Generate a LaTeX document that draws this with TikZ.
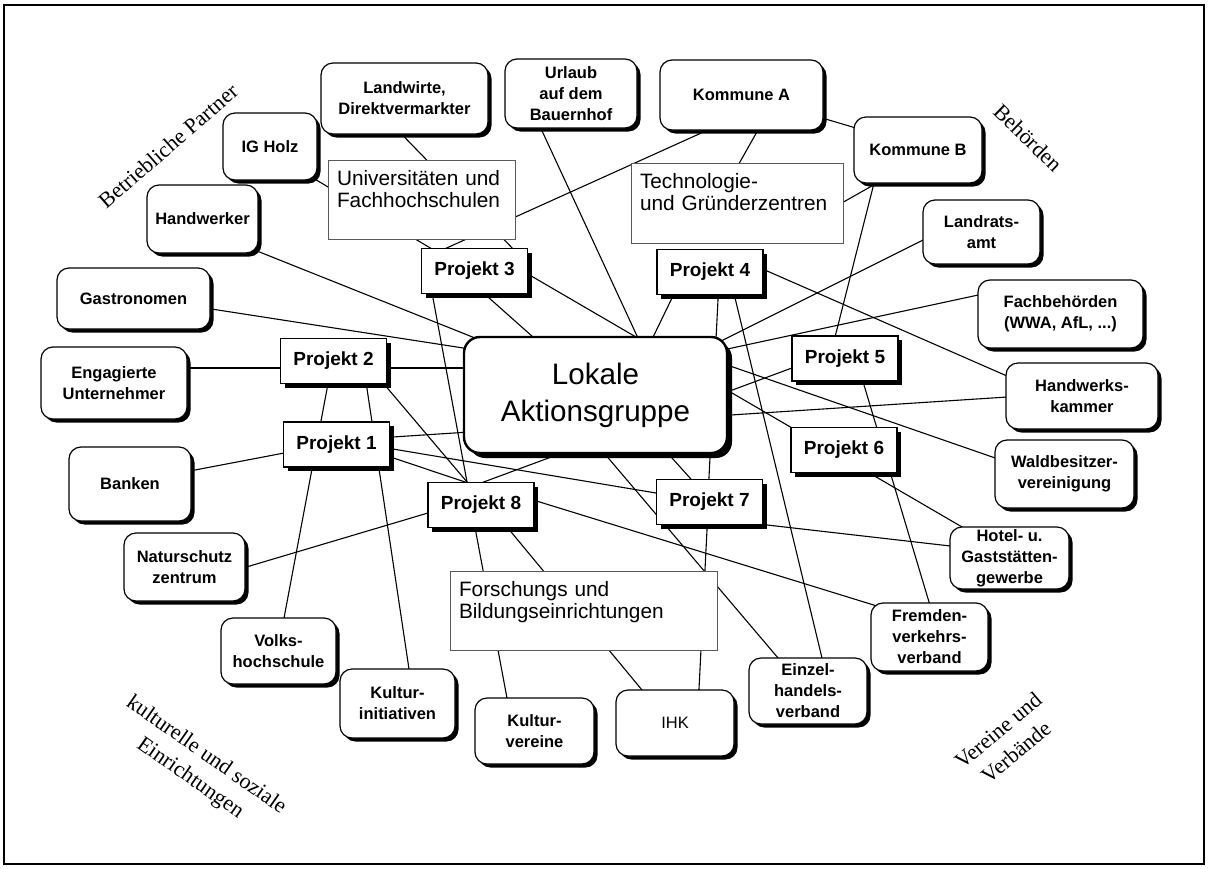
\documentclass[tikz,border=0pt]{standalone}
\usepackage{fontspec}
\setmainfont{Liberation Sans}
\newfontfamily\serifff{Liberation Serif}
\usetikzlibrary{shadows,backgrounds}
\begin{document}
\begin{tikzpicture}[x=1pt,y=-1pt,
  actor/.style={draw, line width=1.2pt, rounded corners=12pt, fill=white, align=center, inner sep=0pt,
    font=\bfseries\fontsize{16.5}{21}\selectfont,
    drop shadow={shadow xshift=3.5pt, shadow yshift=-3.5pt, fill=black, opacity=1}},
  proj/.style={draw, line width=1.2pt, fill=white, inner sep=0pt, minimum width=106pt, minimum height=45pt,
    font=\bfseries\fontsize{19}{22}\selectfont,
    drop shadow={shadow xshift=4pt, shadow yshift=-4pt, fill=black, opacity=1}},
  info/.style={draw=black!65, line width=0.8pt, fill=white, align=left, inner xsep=9pt, inner ysep=0pt,
    font=\fontsize{20.8}{22}\selectfont},
  link/.style={line width=1.1pt, black},
  region/.style={font=\serifff\fontsize{22}{28}\selectfont, align=center},
]
\useasboundingbox (0,0) rectangle (1208,868);
\draw[line width=1.5pt] (4,5) rectangle (1204,864);

% region labels
\node[region, rotate=41] (betrieb) at (168,146) {Betriebliche Partner};
\node[region, rotate=-44] (behoerden) at (1028,138) {Behörden};
\node[region, rotate=-35] (kultur) at (198,767) {kulturelle und soziale\\Einrichtungen};
\node[region, rotate=40] (vereine) at (1007,741) {Vereine und\\Verbände};

% info boxes
\node[info, minimum width=187pt, minimum height=79pt, text width=169pt] (univ) at (421.5,199.5) {Universitäten und\\Fachhochschulen\\\mbox{}};
\node[info, minimum width=212pt, minimum height=80pt, text width=194pt] (tech) at (737,203) {Technologie-\\und Gründerzentren\\\mbox{}};
\node[info, minimum width=267pt, minimum height=79pt, text width=249pt] (forsch) at (583.5,610.5) {Forschungs und\\Bildungseinrichtungen\\\mbox{}};

% actor boxes
\node[actor, minimum width=94pt, minimum height=67pt] (igholz) at (270,146.5) {IG Holz};
\node[actor, minimum width=167pt, minimum height=71pt] (landwirte) at (404.5,98.5) {Landwirte,\\Direktvermarkter};
\node[actor, minimum width=132pt, minimum height=69pt] (urlaub) at (571,93.5) {Urlaub\\auf dem\\Bauernhof};
\node[actor, minimum width=163pt, minimum height=70pt] (kommunea) at (741.5,95) {Kommune A};
\node[actor, minimum width=128pt, minimum height=66pt] (kommuneb) at (918,150) {Kommune B};
\node[actor, minimum width=111pt, minimum height=68pt] (handwerker) at (202.5,219) {Handwerker};
\node[actor, minimum width=153pt, minimum height=61pt] (gastro) at (133.5,298.5) {Gastronomen};
\node[actor, minimum width=146pt, minimum height=72pt] (engagiert) at (114,383) {Engagierte\\Unternehmer};
\node[actor, minimum width=122pt, minimum height=74pt] (banken) at (130,484) {Banken};
\node[actor, minimum width=121pt, minimum height=68pt] (natur) at (184.5,567) {Naturschutz\\zentrum};
\node[actor, minimum width=115pt, minimum height=66pt] (volks) at (278.5,651) {Volks-\\hochschule};
\node[actor, minimum width=115pt, minimum height=69pt] (kinit) at (397.5,703.5) {Kultur-\\initiativen};
\node[actor, minimum width=119pt, minimum height=66pt] (kver) at (534.5,731) {Kultur-\\vereine};
\node[actor, minimum width=118pt, minimum height=66pt, font=\mdseries\fontsize{16.5}{21}\selectfont] (ihk) at (675,723) {IHK};
\node[actor, minimum width=118pt, minimum height=66pt] (einzel) at (808,691) {Einzel-\\handels-\\verband};
\node[actor, minimum width=117pt, minimum height=68pt] (fremden) at (929.5,637) {Fremden-\\verkehrs-\\verband};
\node[actor, minimum width=119pt, minimum height=62pt] (hotel) at (1009.5,558) {Hotel- u.\\Gaststätten-\\gewerbe};
\node[actor, minimum width=139pt, minimum height=68pt] (wald) at (1064.5,474) {Waldbesitzer-\\vereinigung};
\node[actor, minimum width=152pt, minimum height=66pt] (hwk) at (1082,396) {Handwerks-\\kammer};
\node[actor, minimum width=165pt, minimum height=68pt] (fach) at (1060.5,314) {Fachbehörden\\(WWA, AfL, ...)};
\node[actor, minimum width=117pt, minimum height=64pt] (landrat) at (981.5,232) {Landrats-\\amt};

% projects
\node[proj] (p3) at (474.5,271) {Projekt 3};
\node[proj] (p4) at (710,272) {Projekt 4};
\node[proj] (p2) at (333.5,361) {Projekt 2};
\node[proj] (p5) at (845,358.5) {Projekt 5};
\node[proj] (p1) at (336.5,444.5) {Projekt 1};
\node[proj] (p6) at (844,450) {Projekt 6};
\node[proj] (p8) at (481,505) {Projekt 8};
\node[proj] (p7) at (709.5,502) {Projekt 7};

% central node
\node[draw, line width=2.4pt, rounded corners=16pt, fill=white, minimum width=263pt, minimum height=116pt,
  align=center, font=\fontsize{29.6}{37}\selectfont,
  drop shadow={shadow xshift=5pt, shadow yshift=-5pt, fill=black, opacity=1}] (lokale) at (595.5,395) {Lokale\\Aktionsgruppe};

\begin{pgfonlayer}{background}
\fill[white] (0,0) rectangle (1208,868);
\draw[link] ([shift={(49.5,30)}]handwerker.center) -- ([shift={(-110.5,-53)}]lokale.center);
\draw[link] ([shift={(71.5,9.5)}]gastro.center) -- ([shift={(-122.5,-45.5)}]lokale.center);
\draw[link] ([shift={(66,-15)}]engagiert.center) -- ([shift={(-43.5,7)}]p2.center);
\draw[link] ([shift={(46.5,7)}]p2.center) -- ([shift={(-120.5,-27)}]lokale.center);
\draw[link] ([shift={(-4.8,19)}]p2.center) -- ([shift={(4.2,-26)}]volks.center);
\draw[link] ([shift={(32.2,19)}]p2.center) -- ([shift={(12.4,-28.5)}]kinit.center);
\draw[link] ([shift={(46.2,18)}]p2.center) -- ([shift={(-7.2,-15)}]p8.center);
\draw[link] ([shift={(-43,19)}]p3.center) -- ([shift={(-12.5,-15)}]p8.center);
\draw[link] ([shift={(48.5,10.7)}]p1.center) -- ([shift={(-3,-18.7)}]p8.center);
\draw[link] ([shift={(48.5,3.2)}]p1.center) -- ([shift={(-44.5,-7.5)}]p7.center);
\draw[link] ([shift={(48.5,-7)}]p1.center) -- ([shift={(-67,0.5)}]hwk.center);
\draw[link] ([shift={(55,-12.1)}]banken.center) -- ([shift={(-44.5,7)}]p1.center);
\draw[link] ([shift={(-45,5.6)}]p8.center) -- ([shift={(55.5,1.9)}]natur.center);
\draw[link] ([shift={(-7.4,15)}]p8.center) -- ([shift={(-26.2,-26)}]kver.center);
\draw[link] ([shift={(20.2,15)}]p8.center) -- ([shift={(-27.2,-26)}]ihk.center);
\draw[link] ([shift={(49,-6)}]p8.center) -- ([shift={(-44.5,-28.5)}]fremden.center);
\draw[link] ([shift={(-6,-19.8)}]p8.center) -- ([shift={(-45,6.5)}]p5.center);
\draw[link] ([shift={(3.4,17)}]p3.center) -- ([shift={(-53.5,-50)}]lokale.center);
\draw[link] ([shift={(47.5,-0.4)}]p3.center) -- ([shift={(-37.5,-25.2)}]hotel.center);
\draw[link] ([shift={(-31.7,31.5)}]urlaub.center) -- ([shift={(45.7,-50)}]lokale.center);
\draw[link] ([shift={(-34.1,18)}]p4.center) -- ([shift={(53.7,-50)}]lokale.center);
\draw[link] ([shift={(8.5,18)}]p4.center) -- ([shift={(-1,-15)}]p7.center);
\draw[link] ([shift={(23.1,18)}]p4.center) -- ([shift={(15.7,-26)}]einzel.center);
\draw[link] ([shift={(48,-5)}]p4.center) -- ([shift={(-67,-16.5)}]hwk.center);
\draw[link] ([shift={(119.5,-51)}]lokale.center) -- ([shift={(-48.5,3)}]landrat.center);
\draw[link] ([shift={(124.5,-44.4)}]lokale.center) -- ([shift={(-72.5,-21.1)}]fach.center);
\draw[link] ([shift={(124.5,-32.5)}]lokale.center) -- ([shift={(-59.5,-12.6)}]wald.center);
\draw[link] ([shift={(-42.7,28)}]kommuneb.center) -- ([shift={(-12,-13.5)}]p5.center);
\draw[link] ([shift={(16,16.5)}]p5.center) -- ([shift={(1.9,-27)}]fremden.center);
\draw[link] ([shift={(45.5,21.6)}]p7.center) -- ([shift={(-49.5,-10.9)}]hotel.center);
\draw[link] ([shift={(-10.5,-14)}]p7.center) -- ([shift={(67.5,53)}]lokale.center);
\draw[link] ([shift={(-2,18)}]p7.center) -- ([shift={(23.6,-26)}]ihk.center);
\draw[link] ([shift={(4.3,53)}]lokale.center) -- ([shift={(-24,-26)}]einzel.center);
\draw[link] ([shift={(-22.5,30)}]kommunea.center) -- ([shift={(-34.5,-20)}]p3.center);
\draw[link] ([shift={(38,28.5)}]igholz.center) -- ([shift={(-37.5,-19)}]p3.center);
\draw[link] ([shift={(-8.9,29.5)}]landwirte.center) -- ([shift={(47.4,-13)}]p3.center);
\draw[link] ([shift={(19.3,30)}]kommunea.center) -- ([shift={(-4.4,-28)}]tech.center);
\draw[link] ([shift={(73.5,20.9)}]kommunea.center) -- ([shift={(-53,-19.3)}]kommuneb.center);
\draw[link] ([shift={(-40,32.5)}]kommuneb.center) -- ([shift={(101,2.1)}]tech.center);
\end{pgfonlayer}
\end{tikzpicture}
\end{document}
